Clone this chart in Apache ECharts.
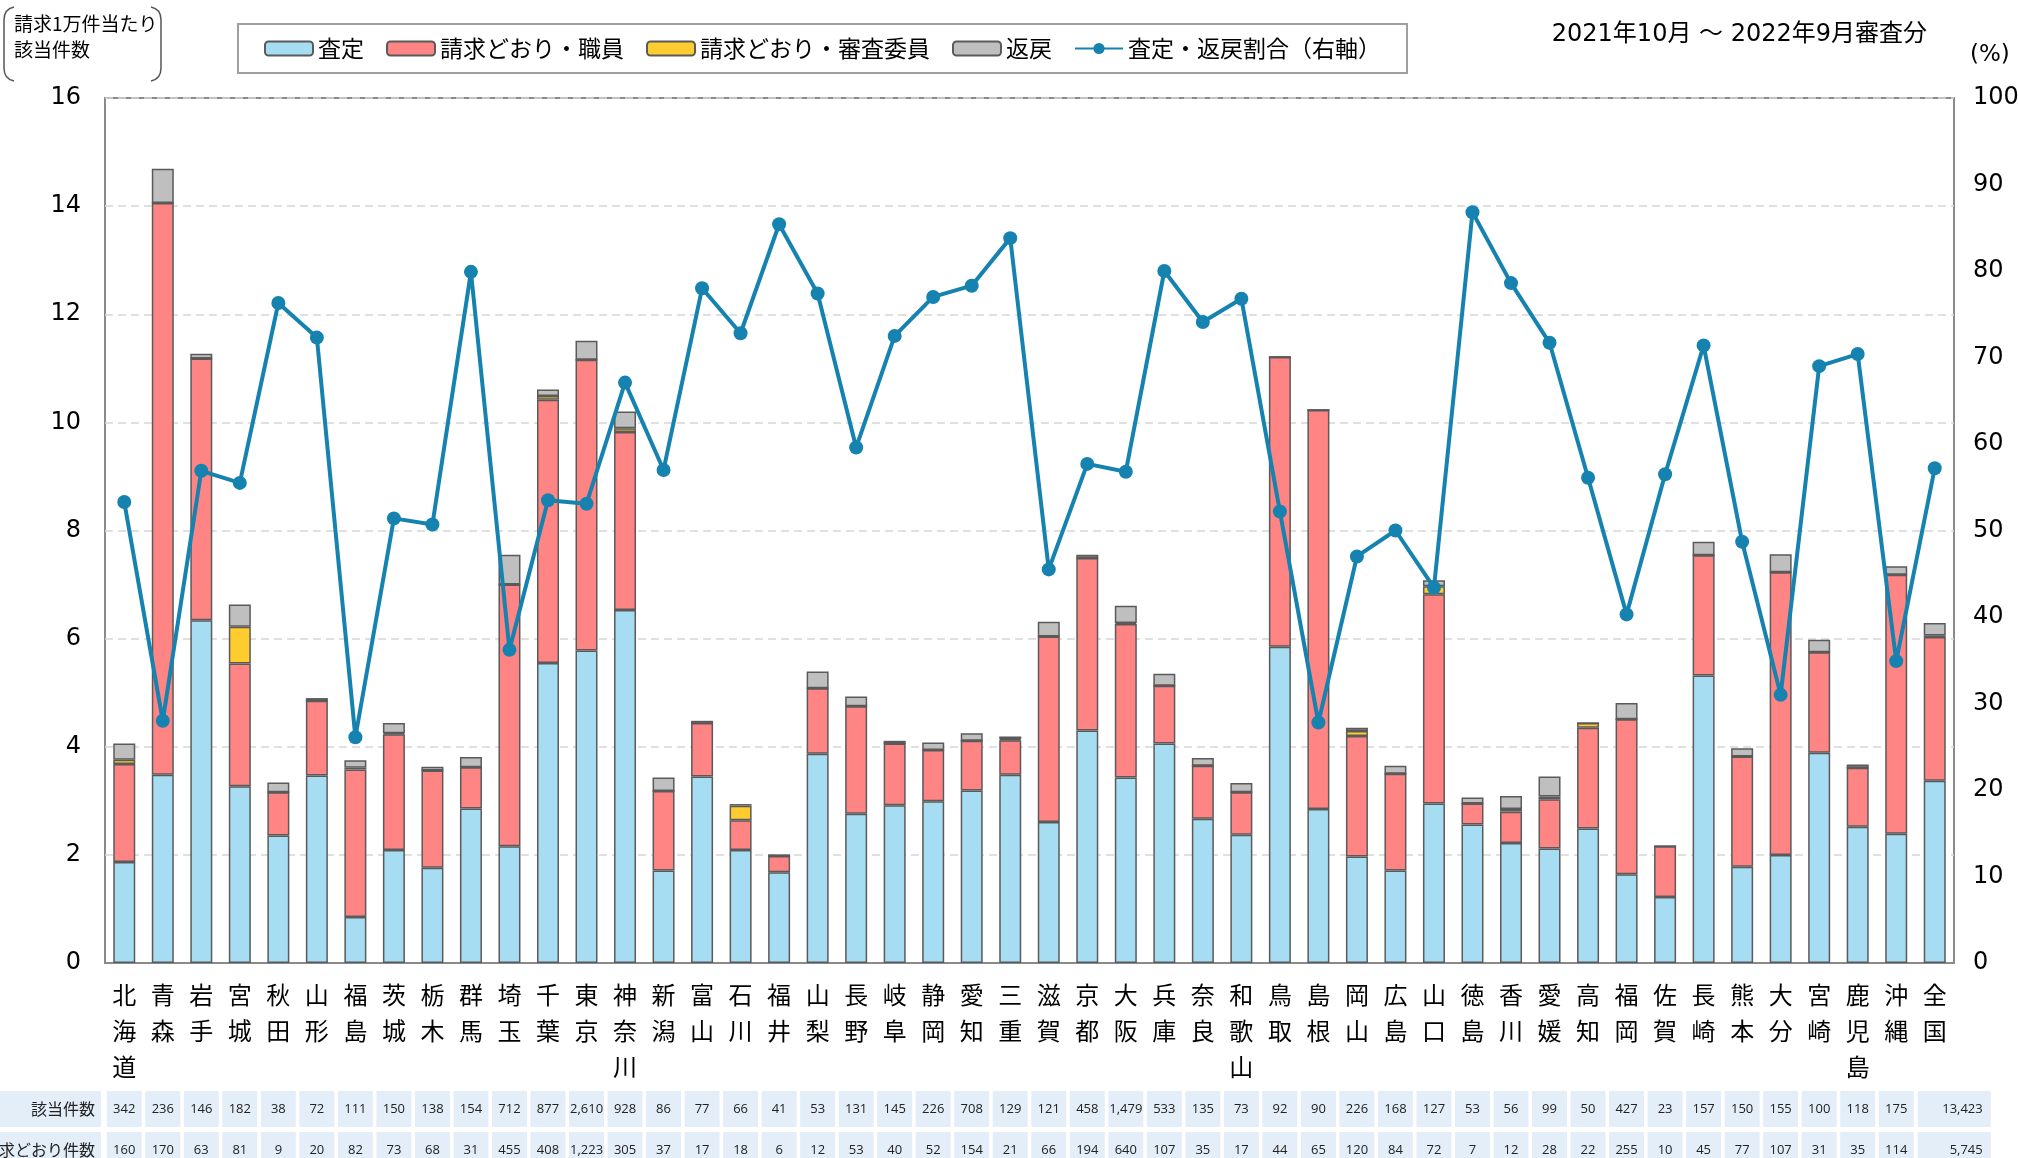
<!DOCTYPE html>
<html><head><meta charset="utf-8">
<script src="https://cdn.jsdelivr.net/npm/echarts@6/dist/echarts.min.js"></script>
<style>html,body{margin:0;padding:0;background:#fff}#c{width:2018px;height:1158px}</style>
</head><body><div id="c"></div>
<script>
const categories = ['北海道','青森','岩手','宮城','秋田','山形','福島','茨城','栃木','群馬','埼玉','千葉','東京','神奈川','新潟','富山','石川','福井','山梨','長野','岐阜','静岡','愛知','三重','滋賀','京都','大阪','兵庫','奈良','和歌山','鳥取','島根','岡山','広島','山口','徳島','香川','愛媛','高知','福岡','佐賀','長崎','熊本','大分','宮崎','鹿児島','沖縄','全国'];
const satei = [1.87,3.48,6.34,3.27,2.36,3.47,0.85,2.09,1.76,2.86,2.16,5.55,5.78,6.53,1.71,3.45,2.09,1.68,3.87,2.76,2.92,2.99,3.19,3.48,2.61,4.30,3.43,4.06,2.67,2.37,5.85,2.85,1.97,1.71,2.95,2.56,2.22,2.12,2.49,1.64,1.22,5.32,1.78,2.00,3.89,2.52,2.39,3.37];
const seikyuShokuin = [1.81,10.58,4.84,2.27,0.80,1.38,2.73,2.14,1.80,0.76,4.84,4.87,5.38,3.29,1.47,0.99,0.55,0.30,1.21,1.99,1.14,0.95,0.92,0.64,3.43,3.19,2.84,1.07,0.98,0.79,5.36,7.38,2.23,1.79,3.87,0.39,0.58,0.91,1.86,2.87,0.94,2.22,2.04,5.23,1.86,1.09,4.79,2.66];
const seikyuIin = [0.08,0,0,0.68,0,0,0.03,0.02,0,0,0,0.07,0,0.07,0,0,0.27,0,0,0,0,0,0,0.02,0,0,0.02,0,0,0,0,0,0.09,0,0.15,0,0.05,0.05,0.09,0,0,0,0,0,0,0,0,0.03];
const henrei = [0.30,0.63,0.09,0.41,0.18,0.05,0.14,0.19,0.07,0.19,0.55,0.12,0.35,0.31,0.25,0.04,0.03,0.03,0.31,0.18,0.05,0.14,0.14,0.05,0.27,0.06,0.32,0.22,0.14,0.17,0,0,0.06,0.15,0.11,0.11,0.24,0.37,0,0.30,0,0.25,0.15,0.33,0.23,0.06,0.16,0.23];
const ratio = [53.3,28.0,56.9,55.5,76.3,72.3,26.1,51.4,50.7,79.9,36.2,53.5,53.1,67.1,57.0,78.0,72.8,85.4,77.4,59.6,72.5,77.0,78.3,83.8,45.5,57.7,56.8,80.0,74.1,76.8,52.2,27.8,47.0,50.0,43.4,86.8,78.6,71.7,56.1,40.3,56.5,71.4,48.7,31.0,69.0,70.4,34.9,57.2];
const gaitoKensu = [342,236,146,182,38,72,111,150,138,154,712,877,2610,928,86,77,66,41,53,131,145,226,708,129,121,458,1479,533,135,73,92,90,226,168,127,53,56,99,50,427,23,157,150,155,100,118,175,13423];
const seikyuKensu = [160,170,63,81,9,20,82,73,68,31,455,408,1223,305,37,17,18,6,12,53,40,52,154,21,66,194,640,107,35,17,44,65,120,84,72,7,12,28,22,255,10,45,77,107,31,35,114,5745];
const tableHeaders = ['該当件数','請求どおり件数'];
const leftTicks = {min:0, max:16, interval:2};
const rightTicks = {min:0, max:100, interval:10};
const seriesNames = ['査定','請求どおり・職員','請求どおり・審査委員','返戻','査定・返戻割合（右軸）'];

const CJK = "'Noto Sans CJK JP', sans-serif";
const NUM = "'DejaVu Sans', 'Noto Sans CJK JP', sans-serif";
const fmt = n => n.toLocaleString('en-US');
const cellBg = '#e4eef9';
const cellFont = "'Open Sans', sans-serif";
const rowOffsets = [128, 169];
const gridBottomY = 1158 - 195;

function tableAxis(values, offset){
  return {
    type:'category', data:categories, gridIndex:0, position:'bottom', offset:offset,
    axisLine:{show:false}, axisTick:{show:false}, splitLine:{show:false},
    axisLabel:{interval:0, margin:0, verticalAlign:'top', hideOverlap:false,
      formatter:(v,i)=> i===values.length-1 ? '{sp|}{w|'+fmt(values[i])+'}' : '{c|'+fmt(values[i])+'}',
      rich:{
        c:{fontFamily:cellFont, fontSize:13, color:'#222', width:35, height:36, lineHeight:36, align:'center', backgroundColor:cellBg},
        sp:{width:39, height:36},
        w:{fontFamily:cellFont, fontSize:13, color:'#222', width:65, height:36, lineHeight:36, align:'right', backgroundColor:cellBg, padding:[0,8,0,0]}
      }}
  };
}

function headerCell(text, offset){
  const top = gridBottomY + offset;
  return [
    {type:'rect', shape:{x:0, y:top, width:101, height:36}, style:{fill:cellBg}, z:1},
    {type:'text', x:95, y:top+18, style:{text:text, fontFamily:CJK, fontSize:16, fill:'#222', align:'right', verticalAlign:'middle'}, z:2}
  ];
}

const barBorder = {borderColor:'#5a5a5a', borderWidth:1.5};
const colors = ['#a6ddf2','#ff8585','#ffcc2f','#bfbfbf'];
const barData = [satei, seikyuShokuin, seikyuIin, henrei];

function bracket(xEdge, xIn){
  const s = {stroke:'#555', lineWidth:1.5, fill:null};
  return [
    {type:'bezierCurve', shape:{x1:xIn, y1:7, x2:xEdge, y2:20, cpx1:xEdge, cpy1:9}, style:s},
    {type:'line', shape:{x1:xEdge, y1:20, x2:xEdge, y2:68}, style:s},
    {type:'bezierCurve', shape:{x1:xEdge, y1:68, x2:xIn, y2:81, cpx1:xEdge, cpy1:79}, style:s}
  ];
}

const option = {
  animation:false,
  backgroundColor:'#fff',
  grid:{left:105, right:64, top:98, bottom:195, show:true, borderColor:'#8a8a8a', borderWidth:2,
        containLabel:false, outerBoundsMode:'none'},
  legend:{
    left:238, top:24, data:seriesNames, itemWidth:48, itemHeight:14, itemGap:22,
    borderColor:'#a0a0a0', borderWidth:2, padding:[13,26,13,26],
    textStyle:{fontFamily:CJK, fontSize:23, color:'#000'}
  },
  xAxis:[
    {type:'category', data:categories, axisTick:{show:false}, axisLine:{lineStyle:{color:'#8a8a8a', width:2}},
     axisLabel:{interval:0, margin:14, fontFamily:CJK, fontSize:24, lineHeight:36, color:'#000',
       formatter:v=>v.split('').join('\n'), verticalAlign:'top'}},
    tableAxis(gaitoKensu, rowOffsets[0]),
    tableAxis(seikyuKensu, rowOffsets[1])
  ],
  yAxis:[
    {type:'value', min:leftTicks.min, max:leftTicks.max, interval:leftTicks.interval,
     axisLine:{show:false}, axisTick:{show:false},
     axisLabel:{fontFamily:NUM, fontSize:24, color:'#000', margin:24},
     splitLine:{lineStyle:{type:[8,5], color:'#d6d6d6', width:1.5}}},
    {type:'value', min:rightTicks.min, max:rightTicks.max, interval:rightTicks.interval, position:'right',
     axisLine:{show:false}, axisTick:{show:false},
     axisLabel:{fontFamily:NUM, fontSize:24, color:'#000', margin:19},
     splitLine:{show:false}}
  ],
  series:[
    ...barData.map((d,k)=>({
      name:seriesNames[k], type:'bar', stack:'total', data:d, barWidth:22,
      itemStyle:Object.assign({color:colors[k]}, barBorder)
    })),
    {name:seriesNames[4], type:'line', yAxisIndex:1, data:ratio, symbol:'circle', symbolSize:14, z:10,
     itemStyle:{color:'#1682b0'}, lineStyle:{color:'#1682b0', width:4}}
  ],
  graphic:[
    ...bracket(4, 14),
    ...bracket(161, 151),
    {type:'text', left:14, top:14, style:{text:'請求1万件当たり', fontFamily:CJK, fontSize:19, fill:'#000'}},
    {type:'text', left:14, top:40, style:{text:'該当件数', fontFamily:CJK, fontSize:19, fill:'#000'}},
    {type:'text', right:2018-1927, top:23, style:{text:'2021年10月 ～ 2022年9月審査分', fontFamily:NUM, fontSize:24, fill:'#000'}},
    {type:'text', left:1970, top:44, style:{text:'(%)', fontFamily:NUM, fontSize:23, fill:'#000'}},
    ...headerCell(tableHeaders[0], rowOffsets[0]),
    ...headerCell(tableHeaders[1], rowOffsets[1])
  ]
};
const chart = echarts.init(document.getElementById('c'), null, {renderer:'canvas'});
chart.setOption(option);
</script>
</body></html>
